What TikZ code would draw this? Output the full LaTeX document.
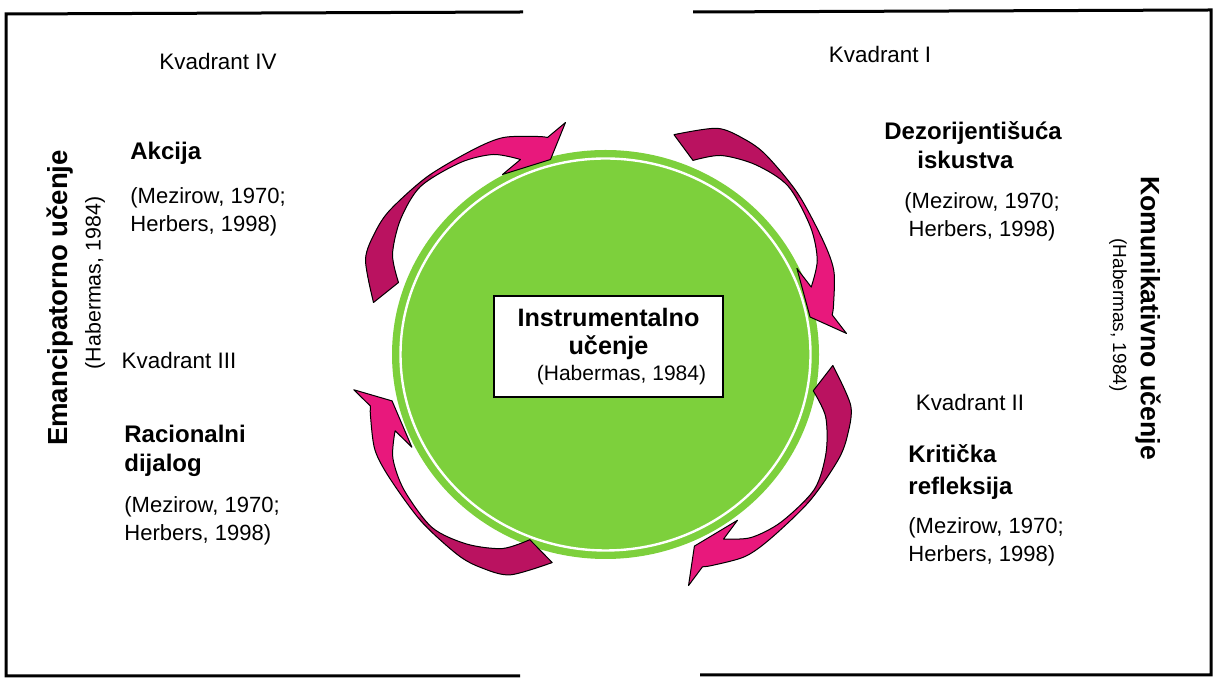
\documentclass[tikz,border=0pt]{standalone}
\usepackage{fontspec}
\setmainfont{Liberation Sans}
\usepackage{xcolor}
\definecolor{ringgreen}{HTML}{7DD03C}
\definecolor{arrowdark}{HTML}{BA1260}
\definecolor{arrowpink}{HTML}{E8187C}
\tikzset{>=latex}
\tikzset{
  frame/.style={line width=1.5pt},
  outline/.style={draw=black,line width=0.5pt,line join=round},
  kvadrant/.style={inner sep=0pt,font=\fontsize{11.2}{13}\selectfont},
  heading/.style={inner sep=0pt,align=left,font=\fontsize{12}{14.8}\selectfont\bfseries},
  cite/.style={inner sep=0pt,align=left,font=\fontsize{11}{14.2}\selectfont},
  sidetitle/.style={inner sep=0pt,font=\fontsize{13.8}{16}\selectfont\bfseries},
}
% curved band of one arrow, tail near 165 deg, head near 100 deg
\def\bandpath{plot[smooth] coordinates {(-232,52) (-240,95) (-230,123) (-215,145) (-178,178) (-132,205) (-102,217) (-68,218) (-58,217)}
  -- (-40,232) -- (-55,195) -- (-103,180)
  -- plot[smooth] coordinates {(-85,195) (-112,200) (-145,192) (-185,168) (-205,135) (-213,100) (-207,72)} -- cycle}

\begin{document}
\begin{tikzpicture}[x=0.5pt,y=0.5pt]
  \useasboundingbox (0,0) rectangle (1214,679);
  % Frame
  \draw[frame] (523,667) -- (6,665) -- (6,3) -- (520,3);
  \draw[frame] (693,667) -- (1211,669) -- (1211,4) -- (700,4);
  % Circle
  \fill[ringgreen] (605.5,324.5) ellipse [x radius=106.75pt, y radius=102.25pt];
  \draw[white,line width=1.2pt] (605.5,324.5) ellipse [x radius=102.5pt, y radius=98pt];
  % Arrows
  \foreach \rot/\dx/\dy in {0/0/0,-92.2/7.6/-10,-166.4/-10.4/-15,95.8/-25/28}{
    \begin{scope}[shift={(605.5+\dx,324.5+\dy)},rotate=\rot]
      \fill[arrowpink] \bandpath;
      \begin{scope}
        \clip (0,0) -- (134:420) -- (170:440) -- (205:420) -- cycle;
        \fill[arrowdark] \bandpath;
      \end{scope}
      \path[outline] \bandpath;
    \end{scope}
  }
  % Centre
  \node[draw,fill=white,line width=0.6pt,minimum width=114.5pt,minimum height=50.5pt,inner sep=0pt,
    align=center,font=\fontsize{12.6}{14}\selectfont] (instr) at (608.5,332.5)
    {\textbf{Instrumentalno}\\\textbf{učenje}\\[-1pt]{\fontsize{10.5}{12}\selectfont\hspace*{13pt}(Habermas, 1984)}};
  % Quadrants
  \node[kvadrant] (kIV) at (218,617) {Kvadrant IV};
  \node[kvadrant] (kI) at (880,624) {Kvadrant I};
  \node[kvadrant] (kIII) at (179,318) {Kvadrant III};
  \node[kvadrant] (kII) at (970,277) {Kvadrant II};
  \node[heading,anchor=west] (akcija) at (130,526) {Akcija};
  \node[cite,anchor=west] (citeIV) at (130,467) {(Mezirow, 1970;\\Herbers, 1998)};
  \node[heading,anchor=west] (dijalog) at (124,228) {Racionalni\\dijalog};
  \node[cite,anchor=west] (citeIII) at (124,158) {(Mezirow, 1970;\\Herbers, 1998)};
  \node[heading,anchor=west] (dezor) at (884,534) {Dezorijentišuća\\\hspace*{16.5pt}iskustva};
  \node[cite,align=center] (citeI) at (982,462) {(Mezirow, 1970;\\Herbers, 1998)};
  \node[heading,anchor=west,font=\fontsize{12}{16}\selectfont\bfseries] (refleks) at (908,207) {Kritička\\refleksija};
  \node[cite,anchor=west] (citeII) at (908,137) {(Mezirow, 1970;\\Herbers, 1998)};
  % Sides
  \node[sidetitle,rotate=90] (emanc) at (60,381) {Emancipatorno učenje};
  \node[cite,rotate=90,font=\fontsize{10.7}{12}\selectfont] (habL) at (95,396) {(Habermas, 1984)};
  \node[sidetitle,rotate=-90,font=\fontsize{13.3}{16}\selectfont\bfseries] (komun) at (1148,361) {Komunikativno učenje};
  \node[cite,rotate=-90,font=\fontsize{9.5}{12}\selectfont] (habR) at (1118,364) {(Habermas, 1984)};
\end{tikzpicture}
\end{document}
